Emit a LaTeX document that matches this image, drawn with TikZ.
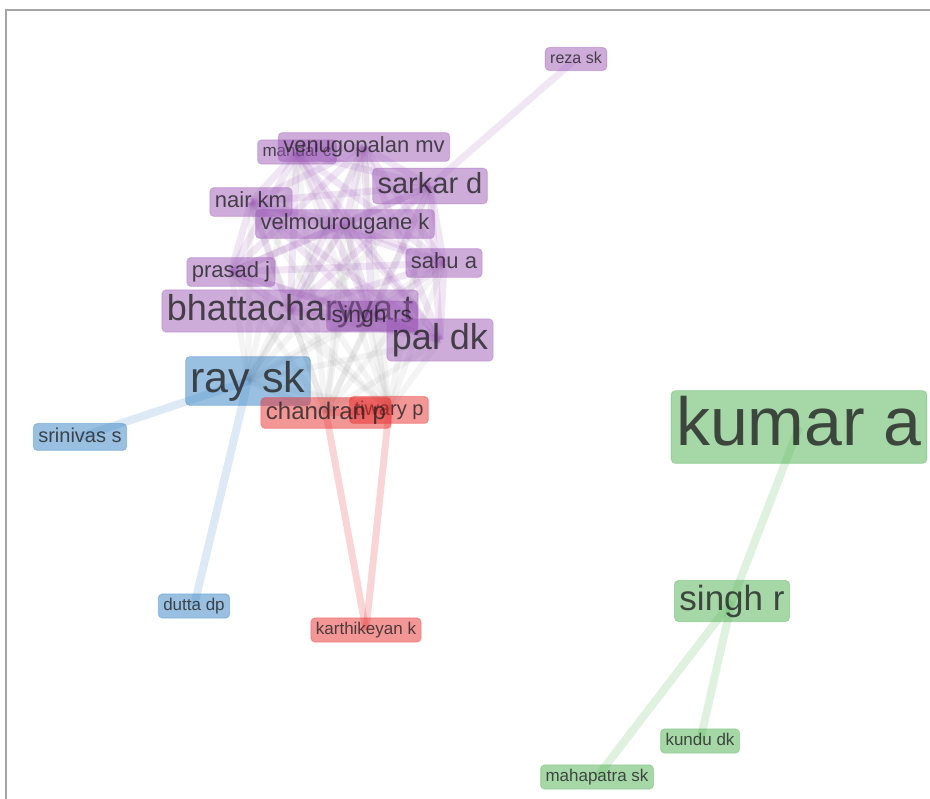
\documentclass[tikz,border=0pt]{standalone}
\usepackage{fontspec}
\setmainfont{Liberation Sans}
\definecolor{pur}{RGB}{155,89,182}
\definecolor{blu}{RGB}{52,128,195}
\definecolor{rd}{RGB}{232,45,45}
\definecolor{grn}{RGB}{76,175,80}
\definecolor{txt}{RGB}{35,35,35}
\pgfdeclarelayer{bg}
\pgfsetlayers{bg,main}
\tikzset{
  lab/.style={rounded corners=4pt, inner xsep=5pt, inner ysep=4pt, text=txt, text opacity=0.8,
    fill opacity=0.5, draw opacity=0.3, line width=1pt,
    font=\fontsize{#1}{#1}\selectfont, text height=#1*0.74pt, text depth=#1*0.21pt},
  pn/.style={lab=#1, fill=pur, draw=pur},
  bn/.style={lab=#1, fill=blu, draw=blu},
  rn/.style={lab=#1, fill=rd, draw=rd},
  gn/.style={lab=#1, fill=grn, draw=grn},
  pe/.style={draw=pur, draw opacity=0.15, line width=7pt},
  ge/.style={draw=gray, draw opacity=0.09, line width=6pt},
  be/.style={draw=blu, draw opacity=0.17, line width=8pt},
  re/.style={draw=rd, draw opacity=0.2, line width=7pt},
  gre/.style={draw=grn, draw opacity=0.18, line width=8pt},
  frame/.style={draw=black!35, line width=1.5pt}
}
\begin{document}
\begin{tikzpicture}[x=1pt,y=-1pt]
\useasboundingbox (0,0) rectangle (930,799);
\coordinate (fa) at (930,10);
\coordinate (fb) at (6,10);
\coordinate (fc) at (6,799);
\draw[frame] (fa) -- (fb) -- (fc);

% purple cluster
\node[pn=16] (reza) at (576,59) {reza sk};
\node[pn=17] (mandal) at (297,152) {mandal c};
\node[pn=22] (venu) at (364,147) {venugopalan mv};
\node[pn=29] (sarkar) at (430,186) {sarkar d};
\node[pn=22] (nair) at (251,202) {nair km};
\node[pn=22] (velm) at (345,224) {velmourougane k};
\node[pn=22] (sahu) at (444,263) {sahu a};
\node[pn=22] (prasad) at (231,272) {prasad j};
\node[pn=36] (bhatt) at (290,311) {bhattacharyya t};
\node[pn=23] (singhrs) at (372,316) {singh rs};
\node[pn=36] (pal) at (440,340) {pal dk};
% blue
\node[bn=43] (ray) at (248,381) {ray sk};
\node[bn=20] (srini) at (80,437) {srinivas s};
\node[bn=17] (dutta) at (194,606) {dutta dp};
% red
\node[rn=20] (tiwary) at (389,410) {tiwary p};
\node[rn=24] (chandran) at (326,413) {chandran p};
\node[rn=17] (karthi) at (366,630) {karthikeyan k};
% green
\node[gn=68] (kumar) at (799,427) {kumar a};
\node[gn=35] (singhr) at (732,601) {singh r};
\node[gn=17] (kundu) at (700,741) {kundu dk};
\node[gn=17] (mahap) at (597,777) {mahapatra sk};

\begin{pgfonlayer}{bg}
\foreach \a in {ray,chandran,tiwary}{
  \foreach \b in {mandal,venu,sarkar,nair,velm,sahu,prasad,bhatt,singhrs,pal}{
    \draw[ge] (\a.center) -- (\b.center);
  }
}
\draw[ge] (ray.center) -- (chandran.center);
\draw[ge] (ray.center) -- (tiwary.center);
\foreach \a [count=\i] in {mandal,venu,sarkar,nair,velm,sahu,prasad,bhatt,singhrs,pal}{
  \foreach \b [count=\j] in {mandal,venu,sarkar,nair,velm,sahu,prasad,bhatt,singhrs,pal}{
    \ifnum\j>\i \draw[pe] (\a.center) -- (\b.center); \fi
  }
}
\draw[pe] (reza.center) -- (sarkar.center);
\draw[be] (ray.center) -- (srini.center);
\draw[be] (ray.center) -- (dutta.center);
\draw[re] (chandran.center) -- (karthi.center);
\draw[re] (tiwary.center) -- (karthi.center);
\draw[re] (chandran.center) -- (tiwary.center);
\draw[gre] (kumar.center) -- (singhr.center);
\draw[gre] (singhr.center) -- (kundu.center);
\draw[gre] (singhr.center) -- (mahap.center);
\end{pgfonlayer}
\end{tikzpicture}
\end{document}
